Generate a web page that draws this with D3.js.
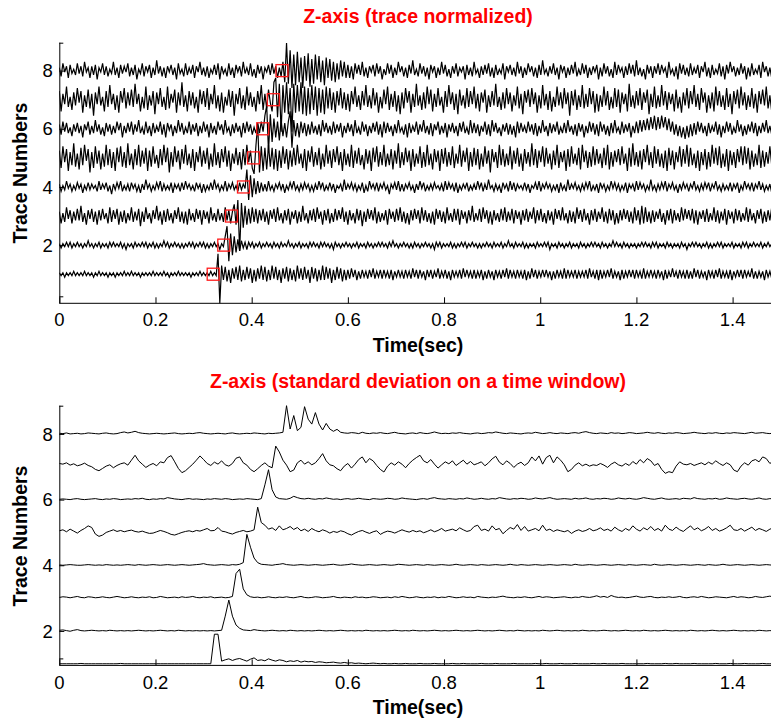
<!DOCTYPE html>
<html><head><meta charset="utf-8">
<script src="https://cdn.jsdelivr.net/npm/d3@7"></script>
<style>
body{margin:0;background:#fff;}
svg{display:block;}
text{font-family:"Liberation Sans",Arial,Helvetica,sans-serif;}
</style>
</head><body>
<svg id="chart" width="771" height="721"></svg>
<script>
// ---------- data ----------
const topDt = 0.00375;   // sample spacing of normalized traces (s)
const topUnit = 20;      // normalized values are in 1/20 trace unit
const stdDt = 0.0075;    // sample spacing of std traces (s)
const stdUnit = 100;     // std values are in 1/100 trace unit
const traceIds = [1,2,3,4,5,6,7,8];
const pickTimes = [0.320,0.342,0.358,0.383,0.404,0.423,0.445,0.463];
const xTicks = [0,0.2,0.4,0.6,0.8,1,1.2,1.4];
const xTickLabels = ["0","0.2","0.4","0.6","0.8","1","1.2","1.4"];
const yTicks = [2,4,6,8];
const titleTop = "Z-axis (trace normalized)";
const titleBottom = "Z-axis (standard deviation on a time window)";
const xLabel = "Time(sec)";
const yLabel = "Trace Numbers";

const top1 = [
1,-1,1,-2,1,-1,1,-1,2,-1,
1,-1,1,-1,2,-1,1,-1,1,-2,
1,-1,2,-1,1,-1,1,-2,1,-1,
1,-2,1,-1,1,-1,2,-1,1,-1,
2,-1,1,-1,1,-2,1,-1,1,-1,
1,-1,2,-1,1,-1,1,-1,2,-1,
1,-2,1,-1,1,-1,2,-1,1,-1,
1,-1,1,-2,1,-1,1,-1,2,-1,
1,-1,1,-1,2,-1,1,-1,14,-20,
6,-4,5,-5,3,-6,4,-3,5,-4,
6,-5,3,-4,5,-3,4,-6,3,-5,
4,-3,6,-4,5,-5,3,-4,6,-3,
5,-4,3,-6,4,-3,5,-5,4,-4,
3,-5,6,-3,4,-4,5,-3,3,-6,
5,-3,4,-5,3,-4,6,-4,5,-3,
4,-6,3,-4,5,-3,4,-5,3,-4,
3,-3,4,-2,3,-4,2,-3,3,-2,
2,-3,3,-2,4,-3,2,-2,3,-3,
3,-2,2,-3,3,-4,2,-2,3,-2,
2,-3,3,-2,2,-3,4,-2,3,-3,
3,-2,2,-4,3,-2,3,-3,2,-2,
4,-3,2,-2,3,-3,2,-4,3,-2,
2,-2,3,-3,4,-2,3,-2,2,-3,
3,-3,2,-2,3,-4,2,-3,3,-2,
2,-4,3,-2,2,-3,3,-2,4,-3,
3,-2,2,-3,3,-2,2,-3,3,-4,
2,-3,4,-2,3,-3,2,-2,3,-2,
3,-2,2,-4,2,-3,3,-2,2,-3,
4,-3,3,-2,2,-2,3,-3,2,-2,
2,-2,3,-3,4,-2,2,-3,3,-4,
3,-3,2,-2,3,-2,4,-3,2,-2,
2,-4,3,-3,2,-2,3,-2,3,-3,
3,-2,2,-3,4,-3,2,-2,3,-2,
2,-3,3,-2,2,-4,3,-3,2,-2,
4,-2,2,-3,3,-2,2,-3,3,-3,
2,-3,4,-2,3,-3,2,-2,2,-4,
3,-2,2,-3,3,-2,4,-3,2,-2,
2,-3,3,-4,2,-2,3,-2,3,-3,
3,-2,2,-2,4,-3,2,-3,2,-2,
2,-4,3,-2,2,-3,3,-2,4,-3,
2];
const top2 = [
1,-2,1,-1,2,-1,2,-2,1,-1,
2,-1,1,-2,1,-1,3,-1,1,-2,
1,-1,2,-2,1,-1,1,-2,2,-1,
2,-1,1,-1,2,-2,1,-3,1,-1,
1,-2,2,-1,1,-1,2,-1,2,-2,
1,-1,2,-2,1,-2,1,-1,3,-1,
2,-2,1,-1,2,-1,1,-2,1,-2,
1,-1,2,-1,2,-2,1,-1,2,-1,
2,-2,1,-2,1,-1,2,-1,1,-3,
1,-1,6,13,-11,8,-7,6,-5,4,
-4,3,-2,2,-3,2,-1,2,-2,1,
-1,2,-2,1,-1,2,-1,1,-2,2,
-1,1,-2,2,-1,1,-1,3,-1,1,
-2,1,-1,2,-2,1,-1,1,-2,2,
-1,2,-1,1,-2,2,-1,2,-1,1,
-2,1,-3,2,-1,1,-2,1,-1,2,
-1,1,-2,1,-1,2,-2,1,-1,1,
-2,2,-1,1,-2,1,-1,2,-1,2,
-1,1,-2,2,-1,3,-1,1,-2,1,
-1,2,-1,1,-2,1,-2,2,-1,1,
-2,1,-1,2,-1,1,-2,1,-3,2,
-1,2,-2,1,-1,1,-1,2,-2,1,
-2,1,-1,2,-1,2,-2,1,-1,2,
-1,1,-2,1,-2,1,-1,2,-1,1,
-2,2,-1,1,-1,2,-2,1,-1,3,
-1,1,-2,2,-1,1,-1,2,-2,1,
-2,1,-1,1,-2,2,-1,1,-1,2,
-1,2,-3,1,-1,1,-2,2,-1,1,
-2,1,-1,2,-2,1,-1,1,-2,2,
-1,1,-2,1,-1,2,-1,2,-1,1,
-2,2,-1,1,-2,1,-1,3,-1,2,
-1,1,-2,2,-1,1,-2,1,-1,1,
-2,1,-1,2,-1,2,-1,1,-2,2,
-1,2,-2,1,-1,1,-2,2,-1,1,
-2,1,-1,1,-2,2,-1,1,-3,1,
-1,2,-1,2,-1,1,-2,1,-1,2,
-2,1,-2,1,-1,2,-1,2,-2,1,
-1,1,-1,2,-2,1,-1,1,-2,2,
-1,2,-2,1,-1,2,-1,1,-1,2,
-2,1,-1,2,-1,1,-2,2,-1,1,
-1];
const top3 = [
3,-5,2,-4,6,-2,4,-5,3,-3,
5,-3,7,-4,2,-6,4,-2,5,-4,
3,-6,4,-3,5,-2,2,-5,6,-4,
4,-2,5,-6,3,-4,4,-5,2,-3,
6,-4,3,-3,5,-7,3,-4,6,-2,
2,-5,4,-2,7,-3,3,-6,4,-4,
5,-3,2,-5,4,-2,6,-4,3,-5,
3,-6,5,-3,2,-4,5,-2,4,-6,
4,-2,3,-5,6,-3,2,-4,5,-3,
2,-4,6,-3,4,-5,3,8,-6,11,
-24,9,-8,7,-6,5,-5,6,-4,5,
-5,4,-3,5,-4,3,-6,4,-2,5,
-4,6,-3,2,-5,4,-3,5,-6,3,
-2,4,-5,3,-4,7,-3,2,-5,4,
-3,5,-4,6,-2,3,-6,4,-3,5,
-5,2,-4,5,-3,4,-2,6,-4,3,
-6,4,-3,2,-5,5,-3,4,-7,3,
-4,5,-2,4,-3,6,-5,3,-4,2,
-3,4,-6,5,-2,3,-4,5,-3,6,
-4,3,-5,2,-6,4,-3,5,-2,4,
-5,6,-3,4,-4,2,-5,3,-6,5,
-2,4,-4,3,-5,6,-3,2,-4,5,
-3,5,-6,4,-2,3,-5,4,-3,7,
-4,2,-3,5,-4,6,-2,4,-5,3,
-6,4,-3,2,-4,5,-3,6,-4,3,
-3,5,-5,4,-2,3,-6,4,-3,5,
-4,3,-2,6,-5,4,-3,5,-4,2,
-5,4,-3,3,-6,5,-2,4,-3,6,
-3,2,-5,4,-4,3,-5,6,-2,4,
-4,5,-3,2,-6,4,-3,5,-4,3,
-2,6,-4,3,-5,5,-3,4,-6,2,
-5,4,-3,5,-2,4,-4,3,-5,6,
-3,4,-6,7,-5,6,-4,3,-5,4,
-4,3,-2,5,-4,2,-6,4,-3,5,
-5,4,-3,2,-4,6,-3,5,-2,4,
-3,5,-5,4,-6,3,-2,4,-4,5,
-4,2,-3,6,-4,4,-5,3,-3,5,
-6,4,-2,3,-5,5,-3,4,-4,2,
-3,6,-4,5,-3,2,-5,4,-2,5,
-5,3,-4,4,-3,6,-4,2,-5,3,
-4];
const top4 = [
2,-3,1,-2,4,-1,2,-3,1,-2,
3,-1,2,-4,1,-2,3,-2,2,-1,
1,-3,4,-2,2,-1,3,-3,1,-5,
2,-2,3,-1,4,-3,1,-2,2,-3,
3,-1,2,-3,1,-4,2,-2,5,-1,
2,-3,1,-2,3,-1,4,-3,2,-2,
1,-2,3,-4,2,-1,2,-3,3,-2,
4,-1,2,-2,1,-3,3,-1,2,-4,
2,-3,1,-2,3,-2,5,-1,2,-3,
1,-2,4,-3,2,-1,3,-2,1,-3,
3,-2,2,-1,12,-9,8,-7,6,-5,
4,-4,3,-3,2,-3,4,-2,1,-3,
2,-1,3,-2,2,-4,1,-2,3,-1,
4,-2,1,-3,2,-2,3,-1,2,-3,
1,-3,2,-2,4,-1,3,-3,1,-2,
3,-2,2,-4,1,-1,2,-3,5,-2,
2,-1,3,-2,2,-3,1,-2,3,-4,
1,-3,4,-1,2,-2,3,-3,2,-1,
3,-2,1,-5,2,-1,3,-2,4,-3,
2,-3,2,-1,3,-2,1,-4,2,-2,
4,-1,3,-3,1,-2,2,-2,3,-1,
1,-2,2,-3,4,-2,3,-1,2,-3,
3,-4,1,-2,2,-1,3,-3,1,-2,
2,-2,4,-1,3,-3,2,-2,5,-1,
1,-3,2,-2,1,-4,3,-1,2,-3,
4,-2,3,-3,2,-1,1,-2,3,-2,
2,-4,1,-1,3,-2,4,-3,2,-1,
3,-1,2,-3,1,-2,2,-4,3,-2,
1,-3,5,-2,2,-1,3,-2,1,-3,
2,-2,3,-1,4,-3,1,-2,2,-4,
3,-1,2,-3,1,-2,4,-1,3,-2,
2,-3,1,-2,3,-4,2,-1,2,-3,
4,-2,3,-1,2,-3,1,-2,5,-2,
1,-3,2,-2,3,-1,4,-3,2,-1,
3,-2,1,-4,2,-2,3,-1,2,-3,
2,-1,4,-2,1,-3,2,-2,3,-1,
3,-3,2,-1,4,-2,1,-3,2,-2,
1,-2,3,-3,2,-1,3,-4,1,-2,
4,-1,2,-2,3,-3,2,-1,4,-2,
2,-3,1,-2,2,-4,3,-1,2,-3,
1];
const top5 = [
5,-7,8,-3,6,-9,4,-5,10,-6,
3,-8,7,-5,9,-2,6,-10,4,-7,
8,-4,5,-8,3,-6,9,-5,6,-7,
4,-9,7,-3,8,-6,4,-7,10,-5,
3,-8,6,-5,9,-6,5,-4,7,-9,
5,-6,8,-4,2,-7,6,-5,9,-3,
7,-10,4,-6,8,-3,5,-8,6,-4,
9,-5,3,-7,6,-9,4,-3,8,-6,
5,-4,7,-8,3,-6,10,-5,4,-7,
6,-3,8,-6,5,-9,3,-4,7,-5,
4,-8,6,-5,9,-3,5,-7,-11,8,
23,-10,8,-9,7,-8,9,-6,7,-8,
6,-9,5,-7,8,-4,6,-8,5,-6,
7,-5,9,-4,3,-7,6,-9,5,-3,
8,-6,4,-5,7,-8,3,-6,9,-4,
5,-7,6,-3,8,-5,4,-9,6,-5,
3,-6,9,-7,5,-4,7,-5,2,-8,
6,-4,5,-9,7,-3,8,-6,4,-5,
9,-6,3,-5,6,-8,5,-4,10,-7,
4,-5,7,-3,5,-9,6,-6,3,-4,
8,-7,4,-6,9,-5,3,-8,6,-3,
5,-9,6,-4,7,-6,4,-5,8,-7,
3,-4,9,-6,5,-3,7,-9,4,-6,
7,-5,6,-8,3,-6,8,-4,5,-10,
6,-3,4,-7,9,-5,6,-6,3,-5,
8,-8,5,-4,7,-6,3,-9,6,-4,
4,-6,10,-5,6,-7,5,-3,8,-6,
7,-4,3,-8,5,-5,9,-7,4,-3,
5,-9,6,-6,8,-4,3,-5,7,-8,
9,-3,5,-7,4,-6,8,-5,6,-4,
3,-7,7,-5,9,-8,4,-6,5,-3,
6,-5,8,-4,3,-9,7,-6,10,-5,
4,-6,5,-8,6,-3,9,-5,4,-7,
8,-4,6,-6,3,-7,5,-9,7,-5,
5,-8,4,-3,8,-6,6,-4,9,-6,
7,-5,3,-7,5,-9,4,-5,6,-8,
4,-6,9,-4,7,-5,8,-7,3,-6,
6,-9,5,-5,4,-7,6,-3,8,-5,
8,-4,7,-8,5,-6,3,-5,9,-7,
5,-6,4,-4,8,-5,7,-9,4,-6,
6];
const top6 = [
3,-4,5,-2,4,-3,1,-5,3,-2,
4,-3,2,-6,3,-1,5,-4,2,-3,
6,-2,3,-4,1,-5,4,-2,3,-4,
2,-3,5,-1,4,-6,2,-3,4,-2,
5,-4,3,-2,6,-3,1,-4,5,-3,
2,-5,4,-3,2,-2,5,-4,3,-6,
4,-1,3,-5,2,-3,6,-2,4,-4,
1,-3,5,-4,3,-2,4,-5,2,-3,
5,-2,3,-6,4,-3,2,-4,5,-1,
3,-4,6,-2,1,-5,3,-3,4,-2,
2,-6,4,-3,5,-2,3,-4,1,-3,
4,-3,5,-2,9,16,-16,10,-9,7,
-6,5,-8,6,-5,4,-6,5,12,-13,
6,-5,4,-6,5,-3,4,-5,3,-4,
5,-3,2,-4,3,-5,6,-2,4,-3,
2,-4,5,-3,3,-2,4,-6,2,-3,
4,-2,3,-5,6,-3,1,-4,5,-2,
3,-5,2,-3,4,-2,5,-4,3,-6,
5,-3,4,-2,2,-5,3,-3,6,-2,
1,-4,3,-6,4,-3,2,-2,5,-4,
3,-2,6,-3,2,-4,4,-5,3,-1,
5,-4,2,-3,4,-6,3,-2,4,-3,
2,-5,4,-2,5,-3,1,-4,6,-3,
4,-3,3,-5,2,-2,5,-4,3,-5,
6,-2,4,-3,1,-5,3,-2,4,-4,
3,-4,2,-6,5,-3,4,-2,2,-3,
5,-2,3,-4,4,-5,2,-3,6,-2,
2,-5,4,-3,3,-2,5,-4,1,-3,
4,-3,6,-2,2,-4,3,-5,4,-2,
3,-6,2,-3,5,-2,4,-4,3,-5,
5,-2,3,-4,2,-5,4,-3,6,-2,
1,-4,5,-3,3,-2,4,-6,2,-3,
5,-3,6,-2,6,-1,7,-1,8,0,
9,-1,8,0,9,1,8,-1,7,-2,
5,-4,3,-5,2,-6,1,-7,2,-6,
3,-5,4,-4,5,-2,4,-3,2,-5,
4,-3,2,-2,5,-4,3,-6,2,-3,
5,-2,4,-4,1,-3,6,-2,3,-5,
2,-4,3,-2,5,-3,4,-5,2,-3,
4,-2,6,-3,2,-4,3,-2,5,-4,
3];
const top7 = [
6,-8,4,-3,9,-5,2,-7,5,-4,
8,-2,6,-9,3,-5,7,-6,4,-11,
5,-3,9,-4,2,-8,6,-5,10,-3,
4,-7,3,-9,6,-2,8,-6,5,-4,
7,-5,11,-3,4,-8,2,-6,9,-7,
3,-4,6,-10,5,-3,8,-5,2,-7,
9,-6,4,-2,7,-9,5,-4,12,-5,
3,-8,6,-4,5,-6,2,-9,7,-3,
6,-5,8,-7,4,-3,10,-6,3,-8,
5,-9,2,-4,7,-5,6,-11,4,-3,
8,-6,3,-7,9,-4,5,-5,2,-8,
6,-3,10,-7,4,-6,7,-2,-8,12,
15,-12,11,-22,10,-9,12,-10,8,-22,
11,-9,10,-8,12,-10,9,-11,8,-10,
10,-7,9,-11,8,-9,7,-10,9,-6,
8,-7,5,-9,6,-4,8,-6,5,-7,
4,-8,6,-3,9,-5,3,-7,6,-4,
10,-5,3,-6,8,-4,5,-9,2,-6,
7,-3,9,-7,4,-5,6,-8,3,-10,
5,-6,8,-2,6,-9,4,-5,11,-4,
3,-7,5,-6,9,-3,7,-8,4,-5,
8,-4,2,-9,6,-5,10,-3,5,-7,
4,-10,7,-4,3,-6,8,-5,6,-3,
9,-6,4,-8,5,-2,7,-9,3,-5,
6,-4,11,-5,2,-7,5,-6,8,-3,
5,-8,3,-4,9,-6,4,-10,6,-2,
7,-5,8,-3,5,-9,3,-6,10,-4,
4,-7,6,-8,2,-5,9,-4,5,-6,
8,-3,5,-11,6,-4,7,-7,3,-5,
10,-6,4,-5,8,-3,6,-9,4,-8,
3,-5,9,-4,6,-7,2,-6,8,-5,
7,-9,5,-3,4,-8,11,-5,3,-6,
6,-4,8,-7,5,-2,7,-10,4,-5,
9,-6,3,-5,10,-4,6,-7,5,-3,
4,-8,7,-6,2,-9,5,-4,8,-6,
6,-3,10,-5,4,-7,8,-2,5,-9,
3,-6,5,-8,9,-4,6,-5,3,-7,
8,-5,4,-10,6,-3,7,-6,9,-4,
5,-7,3,-5,8,-6,4,-9,6,-3,
7,-4,9,-6,3,-8,5,-5,10,-6,
4];
const top8 = [
2,-4,5,-1,3,-5,4,-2,1,-3,
5,-2,3,-4,6,-1,2,-5,3,-3,
4,-6,2,-1,5,-3,3,-4,1,-2,
6,-3,2,-5,4,-2,3,-1,5,-4,
2,-3,4,-6,1,-2,5,-4,3,-1,
4,-5,2,-3,7,-2,3,-4,2,-5,
3,-1,4,-3,2,-6,5,-2,1,-4,
5,-3,2,-2,4,-5,3,-1,6,-3,
2,-4,3,-5,1,-2,4,-3,5,-6,
3,-2,1,-4,5,-3,2,-5,4,-1,
3,-4,6,-2,2,-3,5,-4,1,-5,
4,-2,3,-6,2,-1,4,-3,5,-2,
3,-5,2,-4,6,-8,19,-9,14,-12,
11,-10,13,-8,9,-12,10,-7,12,-11,
8,-9,11,-6,10,-8,7,-10,9,-5,
8,-7,6,-8,5,-6,7,-4,6,-5,
4,-5,3,-6,5,-2,4,-3,6,-4,
2,-5,3,-1,4,-4,5,-2,3,-6,
1,-3,5,-2,4,-5,2,-3,6,-1,
3,-4,2,-5,4,-2,7,-3,1,-4,
5,-2,3,-4,2,-6,4,-1,3,-5,
2,-3,6,-2,4,-4,1,-5,3,-2,
5,-4,2,-1,3,-6,4,-3,2,-4,
6,-2,1,-5,3,-3,4,-2,5,-4,
2,-5,4,-3,1,-2,5,-6,3,-1,
4,-3,2,-4,6,-2,3,-5,2,-3,
5,-1,3,-4,2,-5,4,-3,7,-2,
1,-4,3,-2,5,-3,2,-6,4,-1,
3,-5,2,-3,4,-2,6,-4,1,-3,
5,-2,4,-5,2,-3,3,-1,4,-6,
2,-4,5,-2,3,-4,1,-5,6,-3,
4,-1,2,-5,3,-3,5,-2,4,-4,
7,-3,2,-4,1,-6,4,-2,3,-5,
3,-2,5,-3,4,-1,2,-5,6,-2,
1,-4,3,-6,5,-2,4,-3,2,-4,
5,-3,2,-2,4,-5,3,-1,6,-4,
2,-5,4,-3,1,-2,5,-4,3,-6,
4,-2,6,-1,3,-4,2,-3,5,-2,
3,-6,2,-4,5,-3,1,-2,4,-5,
6,-1,3,-4,2,-5,4,-3,2,-4,
3];

const std1 = [
0,0,0,0,0,0,1,0,0,0,
0,0,0,0,0,0,0,1,0,0,
0,0,0,0,0,0,0,0,0,0,
0,0,0,0,0,0,0,0,0,0,
0,0,0,90,90,8,12,15,10,14,
16,12,8,14,18,10,12,9,15,11,
8,12,10,6,9,7,10,5,8,6,
7,4,6,5,3,4,5,3,2,4,
2,3,1,2,1,0,1,2,1,0,
1,0,0,1,0,0,1,0,0,0,
1,0,0,0,1,0,0,0,0,1,
0,0,1,0,0,0,0,1,0,0,
0,1,0,0,0,0,1,0,0,0,
0,0,1,0,0,1,0,0,0,1,
0,0,0,1,0,0,0,0,1,0,
0,1,0,0,0,0,1,0,0,0,
0,0,0,1,0,0,0,0,1,0,
0,1,0,0,0,0,1,0,0,0,
0,0,1,0,0,0,1,0,0,0,
1,0,0,0,0,1,0,0,0,1,
0];
const std2 = [
2,3,1,-1,2,4,1,0,1,2,
1,0,1,0,2,1,0,1,0,1,
0,1,2,1,0,1,0,1,2,1,
0,1,0,2,1,0,1,0,1,0,
1,0,1,0,1,2,45,94,45,18,
8,3,2,1,4,2,1,0,1,2,
1,0,1,0,2,1,0,1,0,1,
0,1,2,1,0,1,0,1,2,1,
0,1,0,1,0,2,1,0,1,0,
1,0,1,2,1,0,1,0,2,1,
0,1,0,1,2,1,0,1,0,1,
2,1,0,1,0,1,2,1,0,1,
0,1,2,1,0,1,0,2,1,0,
1,0,1,0,2,1,0,1,2,1,
0,1,0,1,0,2,1,0,1,0,
1,2,1,0,1,0,1,2,1,0,
1,0,2,1,0,1,0,1,2,1,
0,1,0,1,0,2,1,0,1,0,
1,2,1,0,1,0,1,2,1,0,
1,0,1,0,2,1,0,1,0,1,
0];
const std3 = [
2,4,3,1,3,5,2,1,4,3,
1,2,4,2,1,3,5,3,1,2,
4,2,1,3,2,4,1,2,5,3,
1,2,3,1,4,2,3,5,2,1,
3,2,4,1,2,3,1,2,5,75,
88,28,10,4,2,3,1,2,4,2,
1,3,2,4,2,1,3,5,2,1,
2,4,3,1,2,3,5,2,1,3,
2,1,4,2,3,1,2,4,3,1,
2,3,1,4,2,5,3,1,2,4,
2,1,3,2,4,1,3,2,5,3,
1,2,4,2,3,1,5,3,2,1,
3,2,4,6,3,2,1,3,2,4,
2,1,3,5,2,4,3,1,2,3,
4,2,1,3,2,5,3,2,4,7,
3,5,2,8,4,2,3,1,2,4,
6,3,2,4,5,2,1,3,2,4,
2,3,5,2,1,3,4,2,5,3,
1,2,4,3,2,1,3,5,2,4,
3,1,2,5,3,2,4,6,3,2,
3];
const std4 = [
1,0,1,2,1,0,0,1,2,1,
0,1,0,2,1,0,1,0,1,2,
1,0,2,1,0,1,2,1,0,1,
2,1,0,1,2,1,0,1,2,3,
5,2,1,0,1,2,1,0,2,1,
3,8,94,55,22,8,3,2,1,0,
2,3,5,2,1,0,1,2,1,0,
1,2,1,0,1,2,3,1,0,1,
2,4,2,1,0,1,2,1,0,1,
2,1,0,1,3,2,1,0,1,2,
1,0,2,1,0,1,2,1,0,1,
3,1,0,1,2,1,0,2,1,0,
1,2,1,0,1,3,1,0,2,1,
0,1,2,1,0,1,2,1,0,1,
2,1,0,3,1,0,1,2,1,0,
1,2,1,0,1,2,1,0,2,1,
0,1,2,1,0,3,1,0,1,2,
1,0,1,2,1,0,1,2,1,0,
2,1,0,1,3,1,0,1,2,1,
0,1,2,1,0,1,2,1,0,1,
2];
const std5 = [
5,8,2,10,4,-2,6,12,20,15,
-5,-12,-8,0,4,8,3,6,2,5,
7,3,1,4,0,-3,-2,2,6,3,
-1,-6,-8,-4,0,3,5,2,6,4,
8,12,5,6,15,4,2,-2,-5,0,
3,6,2,4,8,77,30,22,10,14,
6,20,8,12,18,9,15,5,10,3,
12,6,2,8,4,-2,3,0,5,2,
-4,-8,-2,3,6,1,-3,2,5,-6,
0,4,2,-2,3,8,4,1,6,2,
5,-1,3,8,2,6,12,4,7,10,
5,14,8,3,6,18,22,6,10,4,
20,8,12,-4,6,15,10,24,6,18,
4,8,12,5,22,6,10,3,8,5,
2,6,-3,4,8,3,6,12,5,8,
14,6,10,4,16,8,3,12,6,20,
10,4,14,8,18,6,12,4,22,10,
6,16,8,3,12,20,8,14,5,10,
18,6,12,4,8,14,22,8,6,12,
4,10,16,6,12,8,3,10,14,6,
8];
const std6 = [
1,2,1,0,2,3,1,0,1,2,
3,1,0,2,1,3,2,0,1,2,
1,3,2,4,1,0,2,1,3,2,
6,4,2,1,0,2,3,1,2,1,
0,2,1,3,2,1,3,2,0,1,
2,1,3,2,1,0,3,45,91,30,
8,3,2,1,4,10,6,3,2,4,
2,1,3,2,5,3,1,2,0,2,
3,1,2,4,2,1,0,3,2,1,
2,4,3,1,2,5,3,2,1,0,
2,3,1,4,6,3,2,1,3,2,
1,3,2,5,3,1,2,4,2,1,
3,2,6,4,2,1,3,2,4,3,
1,2,5,3,2,4,6,3,1,2,
3,2,1,4,2,3,5,2,1,3,
2,4,3,1,2,5,3,2,4,2,
1,3,6,4,2,1,3,5,2,1,
2,3,1,4,3,2,6,3,2,1,
3,2,4,1,2,5,3,2,1,3,
4,2,1,3,5,2,1,3,2,4,
2];
const std7 = [
10,8,12,5,9,3,6,11,4,0,
-8,-12,-5,2,6,-3,4,9,12,5,
20,35,18,8,-2,5,10,3,15,12,
28,34,15,-5,-18,-12,-2,8,20,33,
22,10,4,14,8,18,6,2,10,26,
30,12,5,-8,-15,-6,4,12,2,-3,
63,45,20,5,-15,-10,12,20,8,15,
6,12,25,40,18,6,3,-6,-12,2,
10,-4,8,22,30,12,25,18,4,-8,
-16,2,12,5,15,8,-3,10,20,28,
35,18,12,22,8,-4,6,15,9,18,
4,12,20,8,16,6,10,15,3,12,
24,32,14,6,18,10,-2,8,14,4,
12,30,18,33,8,28,35,12,30,20,
6,-15,-8,5,12,3,8,2,6,4,
10,5,-2,8,14,6,2,10,4,16,
8,22,12,25,18,4,10,-8,-20,-15,
-18,2,15,8,6,10,4,8,12,6,
14,8,18,10,4,12,6,-10,-15,2,
12,5,18,22,15,30,25,10,18,8,
12];
const std8 = [
2,1,3,0,1,2,0,1,3,2,
1,0,2,3,1,0,1,4,6,3,
5,8,4,2,1,0,1,2,1,0,
1,2,3,1,0,1,2,1,3,4,
2,1,0,1,2,1,0,2,3,1,
0,1,2,1,3,2,1,0,2,1,
2,3,5,86,15,56,10,20,83,45,
30,65,30,12,32,15,8,14,5,3,
2,4,3,1,5,2,1,3,2,4,
2,1,3,5,2,1,0,2,3,1,
4,2,1,3,6,3,1,2,1,3,
2,4,2,1,0,2,3,1,2,4,
3,6,4,2,1,3,2,1,0,2,
3,2,5,3,1,2,4,2,1,3,
2,1,3,4,2,5,7,4,2,1,
3,2,1,4,2,3,1,2,4,3,
1,2,3,5,3,2,4,2,1,3,
2,4,3,1,2,3,5,3,2,1,
3,2,4,2,1,3,2,4,3,2,
1,3,5,2,3,4,2,1,3,2,
2];

const topTraces = [top1,top2,top3,top4,top5,top6,top7,top8];
const stdTraces = [std1,std2,std3,std4,std5,std6,std7,std8];

// ---------- drawing ----------
const svg = d3.select("#chart");
const W = 771;
const x = d3.scaleLinear().domain([0, 1.5]).range([59.3, 780.7]);

const panels = [
  {traces: topTraces, dt: topDt, unit: topUnit, title: titleTop, yDomain:[0, 8.96], yRange:[303.3, 42.7],
   titleY: 23.3, tickLabelY: 326, xLabelY: 352.3, yLabelCy: 173, picks: true, sw: 1.2},
  {traces: stdTraces, dt: stdDt, unit: stdUnit, title: titleBottom, yDomain:[0.95, 8.86], yRange:[665.4, 405.7],
   titleY: 388.3, tickLabelY: 688.5, xLabelY: 714, yLabelCy: 536, picks: false, sw: 1}
];

panels.forEach((p, pi) => {
  const y = d3.scaleLinear().domain(p.yDomain).range(p.yRange);
  const g = svg.append("g");
  const x0 = x(0), yb = p.yRange[0], yt = p.yRange[1];

  const cid = "clip" + pi;
  svg.append("clipPath").attr("id", cid).append("rect")
    .attr("x", x0).attr("y", yt - 1).attr("width", W - x0).attr("height", yb - yt + 2);

  const tg = g.append("g").attr("clip-path", `url(#${cid})`);
  p.traces.forEach((arr, k) => {
    const id = traceIds[k];
    const line = d3.line().x((d, i) => x(i * p.dt)).y(d => y(id + d / p.unit));
    tg.append("path").datum(arr).attr("d", line)
      .attr("fill", "none").attr("stroke", "#000").attr("stroke-width", p.sw)
      .attr("stroke-linejoin", "miter");
  });

  if (p.picks) {
    const s = 12;
    g.selectAll("rect.pick").data(pickTimes).enter().append("rect")
      .attr("class", "pick")
      .attr("x", d => x(d) - s / 2)
      .attr("y", (d, i) => y(traceIds[i]) - s / 2)
      .attr("width", s).attr("height", s)
      .attr("fill", "none").attr("stroke", "#ff1a1a").attr("stroke-width", 1.3);
  }

  const ax = g.append("g").attr("transform", `translate(0,${yb})`)
    .call(d3.axisBottom(x).tickValues(xTicks).tickSize(-6).tickFormat((d, i) => xTickLabels[i]).tickPadding(0));
  ax.select(".domain").attr("d", `M${x0},0H${W + 20}`).attr("stroke", "#000");
  ax.selectAll(".tick line").attr("stroke", "#000");
  ax.selectAll(".tick text").remove();
  g.selectAll("text.xt").data(xTicks).enter().append("text").attr("class", "xt")
    .attr("x", d => x(d)).attr("y", p.tickLabelY).attr("text-anchor", "middle")
    .attr("font-size", "18.5px").attr("fill", "#000").text((d, i) => xTickLabels[i]);

  const ay = g.append("g").attr("transform", `translate(${x0},0)`)
    .call(d3.axisLeft(y).tickValues(yTicks).tickSize(-5).tickFormat(""));
  ay.select(".domain").attr("d", `M0.5,${yt}V${yb}`).attr("stroke", "#000");
  ay.selectAll(".tick line").attr("stroke", "#000");
  g.append("path").attr("d", `M${x0},${yt + 0.5}h4M${x0},${yb - 6.5}h4`).attr("stroke", "#000").attr("stroke-width", 1);
  g.selectAll("text.yt").data(yTicks).enter().append("text").attr("class", "yt")
    .attr("x", x0 - 6.5).attr("y", d => y(d)).attr("dy", "0.36em").attr("text-anchor", "end")
    .attr("font-size", "18.5px").attr("fill", "#000").text(d => d);

  g.append("text").attr("x", 418).attr("y", p.titleY).attr("text-anchor", "middle")
    .attr("font-size", "19.5px").attr("font-weight", "bold").attr("fill", "#ff0000").text(p.title);
  g.append("text").attr("x", 418).attr("y", p.xLabelY).attr("text-anchor", "middle")
    .attr("font-size", "19.5px").attr("font-weight", "bold").attr("fill", "#000").text(xLabel);
  g.append("text").attr("transform", `translate(26.7,${p.yLabelCy}) rotate(-90)`)
    .attr("text-anchor", "middle")
    .attr("font-size", "19.5px").attr("font-weight", "bold").attr("fill", "#000").text(yLabel);
});
</script>
</body></html>
